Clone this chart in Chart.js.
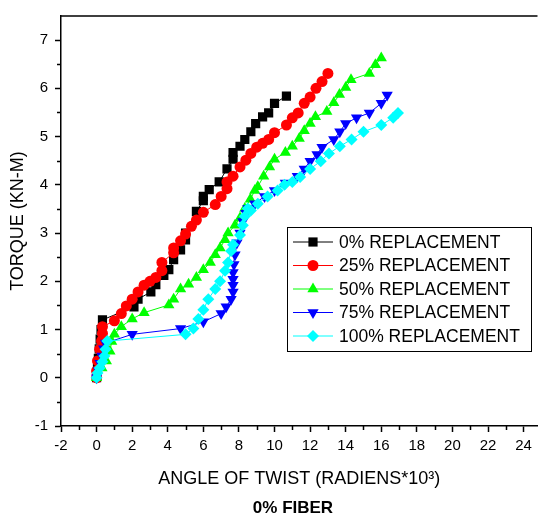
<!DOCTYPE html>
<html>
<head>
<meta charset="utf-8">
<script src="https://cdn.jsdelivr.net/npm/chart.js@4/dist/chart.umd.min.js"></script>
<style>
    html, body { margin: 0; padding: 0; background: #fff; }
    #wrap { width: 544px; height: 521px; position: relative; }
</style>
</head>
<body>
<div id="wrap"><canvas id="torqueChart"></canvas></div>
<script>
const seriesLabels = ['0% REPLACEMENT', '25% REPLACEMENT', '50% REPLACEMENT', '75% REPLACEMENT', '100% REPLACEMENT'];

const twist0 = [0, 0.05, 0.1, 0.15, 0.2, 0.25, 0.33, 2.1, 2.33, 3.05, 3.33, 3.78, 4.06, 4.33, 4.72, 5.0, 5.0, 5.61, 6.0, 6.0, 6.33, 6.89, 7.33, 7.67, 7.67, 8.06, 8.33, 8.67, 8.94, 9.33, 9.67, 10.0, 10.67];
const torque0 = [0, 0.2, 0.4, 0.6, 0.8, 1.0, 1.2, 1.47, 1.63, 1.78, 1.93, 2.12, 2.24, 2.45, 2.65, 2.86, 3.0, 3.45, 3.67, 3.76, 3.9, 4.06, 4.33, 4.53, 4.67, 4.8, 4.94, 5.1, 5.27, 5.41, 5.49, 5.69, 5.84];

const twist25 = [0, 0, 0.05, 0.17, 0.28, 0.33, 0.33, 1.0, 1.39, 1.67, 2.0, 2.33, 2.67, 3.0, 3.33, 3.67, 3.67, 4.33, 4.33, 4.72, 5.0, 5.33, 5.61, 6.0, 6.67, 7.0, 7.33, 7.33, 7.67, 8.06, 8.39, 8.67, 9.0, 9.33, 9.67, 10.0, 10.67, 11.0, 11.33, 11.67, 12.0, 12.33, 12.67, 13.0];
const torque25 = [0, 0.14, 0.35, 0.59, 0.76, 0.92, 1.06, 1.18, 1.33, 1.49, 1.63, 1.78, 1.92, 2.0, 2.08, 2.22, 2.39, 2.59, 2.69, 2.84, 2.98, 3.14, 3.27, 3.43, 3.59, 3.76, 3.92, 4.06, 4.18, 4.37, 4.51, 4.65, 4.78, 4.86, 4.94, 5.08, 5.24, 5.39, 5.49, 5.69, 5.82, 6.0, 6.14, 6.31];

const twist50 = [0, 0.3, 0.55, 0.75, 0.85, 1.0, 1.39, 2.0, 2.67, 4.06, 4.33, 4.72, 5.17, 5.61, 6.0, 6.39, 6.67, 6.94, 7.22, 7.39, 7.78, 8.06, 8.33, 8.64, 8.89, 9.06, 9.39, 9.72, 10.0, 10.61, 11.0, 11.39, 11.67, 12.0, 12.3, 12.94, 13.33, 13.65, 14.0, 14.3, 15.33, 15.67, 16.0];
const torque50 = [0, 0.2, 0.35, 0.55, 0.75, 0.9, 1.06, 1.22, 1.35, 1.51, 1.63, 1.84, 1.94, 2.08, 2.24, 2.39, 2.55, 2.69, 2.86, 3.0, 3.16, 3.31, 3.51, 3.7, 3.88, 3.96, 4.18, 4.37, 4.53, 4.67, 4.8, 4.96, 5.12, 5.27, 5.41, 5.52, 5.7, 5.87, 6.02, 6.18, 6.31, 6.49, 6.63];

const twist75 = [0, 0.1, 0.2, 0.3, 0.4, 0.5, 2.0, 4.72, 6.0, 7.0, 7.28, 7.56, 7.67, 7.67, 7.67, 7.67, 7.72, 7.78, 7.89, 8.06, 8.22, 8.39, 8.5, 8.89, 9.44, 10.0, 10.61, 11.28, 11.67, 12.0, 12.39, 12.67, 13.33, 13.67, 14.0, 14.61, 15.33, 16.0, 16.33];
const torque75 = [0, 0.15, 0.3, 0.45, 0.6, 0.72, 0.9, 1.02, 1.16, 1.33, 1.47, 1.63, 1.78, 1.92, 2.04, 2.18, 2.35, 2.55, 2.8, 3.0, 3.24, 3.41, 3.51, 3.61, 3.76, 3.88, 4.04, 4.18, 4.33, 4.49, 4.63, 4.78, 4.94, 5.1, 5.27, 5.39, 5.49, 5.69, 5.86];

const twist100 = [0, 0.05, 0.17, 0.33, 0.44, 0.5, 0.6, 5.0, 5.44, 5.72, 6.0, 6.28, 6.67, 6.94, 7.22, 7.39, 7.56, 7.67, 8.06, 8.22, 8.33, 8.5, 8.67, 9.06, 9.61, 10.17, 10.56, 11.0, 11.44, 12.0, 12.6, 13.06, 13.67, 14.33, 15.0, 16.0, 16.67, 16.94];
const torque100 = [0, 0.1, 0.2, 0.33, 0.45, 0.59, 0.76, 0.9, 1.02, 1.22, 1.41, 1.63, 1.84, 2.0, 2.22, 2.39, 2.63, 2.76, 2.96, 3.16, 3.35, 3.51, 3.47, 3.61, 3.76, 3.88, 4.0, 4.06, 4.16, 4.33, 4.49, 4.65, 4.8, 4.94, 5.1, 5.24, 5.39, 5.49];

const xTickValues = [-2, 0, 2, 4, 6, 8, 10, 12, 14, 16, 18, 20, 22, 24];
const yTickValues = [-1, 0, 1, 2, 3, 4, 5, 6, 7];

const fontFamily = "'Liberation Sans', Arial, sans-serif";

function toPoints(xs, ys) {
    return xs.map((x, i) => ({ x: x, y: ys[i] }));
}

function series(label, xs, ys, color, style, radius, rotation, order) {
    return {
        label: label,
        data: toPoints(xs, ys),
        borderColor: color,
        backgroundColor: color,
        borderWidth: 1,
        pointStyle: style,
        pointRadius: radius,
        pointRotation: rotation,
        pointBorderWidth: 0,
        showLine: true,
        order: order
    };
}

// minor ticks, top frame line and the caption under the axis
const minorTicks = {
    id: 'minorTicks',
    afterDraw(chart) {
        const ctx = chart.ctx;
        const xs = chart.scales.x;
        const ys = chart.scales.y;
        const area = chart.chartArea;
        ctx.save();
        ctx.strokeStyle = '#000';
        ctx.lineWidth = 1.5;
        ctx.beginPath();
        for (let v = -1; v < xs.max; v += 2) {
            const px = Math.round(xs.getPixelForValue(v)) + 0.5;
            ctx.moveTo(px, area.bottom);
            ctx.lineTo(px, area.bottom + 4);
        }
        for (let v = -0.5; v < ys.max; v += 1) {
            const py = Math.round(ys.getPixelForValue(v)) + 0.5;
            ctx.moveTo(area.left, py);
            ctx.lineTo(area.left - 4, py);
        }
        ctx.moveTo(area.left, area.top);
        ctx.lineTo(area.right, area.top);
        ctx.stroke();

        ctx.fillStyle = '#000';
        ctx.font = 'bold 17px ' + fontFamily;
        ctx.textAlign = 'center';
        ctx.textBaseline = 'middle';
        ctx.fillText('0% FIBER', 293, 508);
        ctx.restore();
    }
};

const legendBox = {
    id: 'legendBox',
    afterDatasetsDraw(chart) {
        const ctx = chart.ctx;
        ctx.save();
        ctx.fillStyle = '#fff';
        ctx.fillRect(287, 227, 244, 124);
        ctx.strokeStyle = '#000';
        ctx.lineWidth = 1;
        ctx.strokeRect(287.5, 227.5, 244, 124);
        ctx.font = '17.5px ' + fontFamily;
        ctx.textBaseline = 'middle';
        ctx.textAlign = 'left';
        chart.data.datasets.forEach((ds, i) => {
            const y = 242 + i * 23.5;
            ctx.strokeStyle = ds.borderColor;
            ctx.lineWidth = 1;
            ctx.beginPath();
            ctx.moveTo(293, y);
            ctx.lineTo(333, y);
            ctx.stroke();
            ctx.fillStyle = ds.backgroundColor;
            Chart.helpers.drawPoint(ctx, {
                pointStyle: ds.pointStyle,
                radius: ds.pointRadius,
                rotation: ds.pointRotation,
                borderWidth: 0
            }, 313, y);
            ctx.fillStyle = '#000';
            ctx.fillText(ds.label, 339, y + 1);
        });
        ctx.restore();
    }
};

const ctx = document.getElementById('torqueChart').getContext('2d');

const torqueChart = new Chart(ctx, {
    type: 'scatter',
    data: {
        datasets: [
            series(seriesLabels[0], twist0, torque0, '#000000', 'rect', 6.5, 0, 5),
            series(seriesLabels[1], twist25, torque25, '#ff0000', 'circle', 5.5, 0, 4),
            series(seriesLabels[2], twist50, torque50, '#00ff00', 'triangle', 6.5, 0, 3),
            series(seriesLabels[3], twist75, torque75, '#0000ff', 'triangle', 6.5, 180, 2),
            series(seriesLabels[4], twist100, torque100, '#00ffff', 'rectRot', 6, 0, 1)
        ]
    },
    options: {
        responsive: true,
        maintainAspectRatio: false,
        animation: false,
        layout: { padding: { top: 10, right: 1, bottom: 25, left: 0 } },
        scales: {
            x: {
                type: 'linear',
                min: -2,
                max: 24.78,
                afterFit: (scale) => { scale.height = 70; },
                afterBuildTicks: (scale) => { scale.ticks = xTickValues.map(v => ({ value: v })); },
                border: { color: '#000', width: 1.5 },
                grid: { drawOnChartArea: false, color: '#000', tickLength: 6, tickWidth: 1.5 },
                ticks: {
                    color: '#000',
                    padding: 5,
                    maxRotation: 0,
                    autoSkip: false,
                    font: { family: fontFamily, size: 15 }
                },
                title: {
                    display: true,
                    text: 'ANGLE OF TWIST (RADIENS*10³)',
                    color: '#000',
                    padding: { top: 4, bottom: 6 },
                    font: { family: fontFamily, size: 18 }
                }
            },
            y: {
                type: 'linear',
                min: -1,
                max: 7.5,
                afterFit: (scale) => { scale.width = 61; },
                afterBuildTicks: (scale) => { scale.ticks = yTickValues.map(v => ({ value: v })); },
                border: { color: '#000', width: 1.5 },
                grid: { drawOnChartArea: false, color: '#000', tickLength: 6, tickWidth: 1.5 },
                ticks: {
                    color: '#000',
                    padding: 7,
                    autoSkip: false,
                    font: { family: fontFamily, size: 15 }
                },
                title: {
                    display: true,
                    text: 'TORQUE (KN-M)',
                    color: '#000',
                    padding: { top: 7, bottom: 0 },
                    font: { family: fontFamily, size: 18 }
                }
            }
        },
        plugins: {
            legend: { display: false },
            tooltip: { enabled: false }
        }
    },
    plugins: [legendBox, minorTicks]
});
</script>
</body>
</html>
